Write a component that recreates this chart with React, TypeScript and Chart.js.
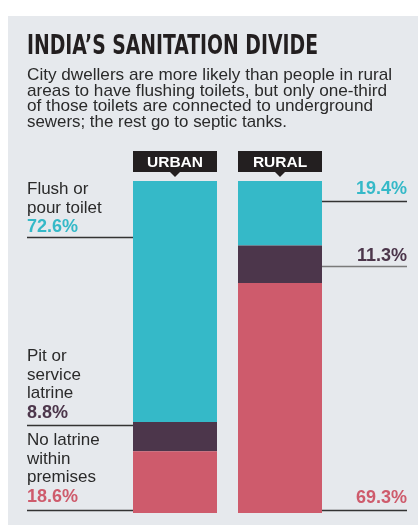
import React, { useEffect, useRef } from "react";
import { Chart, registerables } from "chart.js";

Chart.register(...registerables);

const TITLE = "INDIA\u2019S SANITATION DIVIDE";
const SUBTITLE = [
  "City dwellers are more likely than people in rural",
  "areas to have flushing toilets, but only one-third",
  "of those toilets are connected to underground",
  "sewers; the rest go to septic tanks.",
];
const categories = ["URBAN", "RURAL"];
const seriesNames = ["No latrine within premises", "Pit or service latrine", "Flush or pour toilet"];
const noLatrine = [18.6, 69.3];
const pitLatrine = [8.8, 11.3];
const flushToilet = [72.6, 19.4];
const leftLabels = [
  ["No latrine", "within", "premises"],
  ["Pit or", "service", "latrine"],
  ["Flush or", "pour toilet"],
];

const COLORS = ["#CE5B6C", "#4C364B", "#35B9C8"];
const BG = "#E6E9ED";
const INK = "#2A2A2A";

const W = 410;
const H = 509;

const fmt = (v: number) => v.toFixed(1) + "%";

const overlay = {
  id: "overlay",
  afterDraw(chart: any) {
    const ctx = chart.ctx as CanvasRenderingContext2D;
    const area = chart.chartArea;
    const metaTop = chart.getDatasetMeta(0);
    ctx.save();
    // Title
    ctx.fillStyle = "#231F20";
    ctx.font = 'bold 26.5px "Liberation Sans Narrow", "DejaVu Sans Condensed", sans-serif';
    ctx.textBaseline = "alphabetic";
    ctx.textAlign = "left";
    const tw = ctx.measureText(TITLE).width;
    ctx.save();
    ctx.translate(19, 38);
    ctx.scale(291 / tw, 1);
    ctx.fillText(TITLE, 0, 0);
    ctx.restore();
    // Subtitle
    ctx.fillStyle = INK;
    ctx.font = '17px "Liberation Sans", Arial, sans-serif';
    const targets = [365, 360, 346, 260];
    SUBTITLE.forEach((s, i) => {
      const w = ctx.measureText(s).width;
      ctx.save();
      ctx.translate(19, 64 + i * 15.6);
      ctx.scale(targets[i] / w, 1);
      ctx.fillText(s, 0, 0);
      ctx.restore();
    });

    // Category boxes
    const bars = metaTop.data;
    bars.forEach((bar: any, i: number) => {
      const left = bar.x - bar.width / 2;
      const boxTop = area.top - 30;
      const boxH = 21;
      ctx.fillStyle = "#231F20";
      ctx.fillRect(left, boxTop, bar.width, boxH);
      ctx.beginPath();
      ctx.moveTo(bar.x - 5, boxTop + boxH);
      ctx.lineTo(bar.x + 5, boxTop + boxH);
      ctx.lineTo(bar.x, boxTop + boxH + 5);
      ctx.closePath();
      ctx.fill();
      ctx.fillStyle = "#FFFFFF";
      ctx.font = 'bold 15.5px "Liberation Sans", Arial, sans-serif';
      ctx.textAlign = "center";
      ctx.fillText(categories[i], bar.x, boxTop + 16);
    });

    const urban = bars[0];
    const rural = bars[1];
    const uLeft = urban.x - urban.width / 2;
    const rRight = rural.x + rural.width / 2;
    const textX = 19;
    const rightX = 399;

    const hline = (x1: number, x2: number, y: number, color: string, lw: number) => {
      ctx.strokeStyle = color;
      ctx.lineWidth = lw;
      ctx.beginPath();
      ctx.moveTo(x1, y);
      ctx.lineTo(x2, y);
      ctx.stroke();
    };

    const leftLayout = [
      { base: 429, line: 494 },
      { base: 345, line: 409 },
      { base: 178, line: 221 },
    ];
    const urbanVals = [noLatrine[0], pitLatrine[0], flushToilet[0]];
    leftLayout.forEach((L, k) => {
      ctx.textAlign = "left";
      ctx.fillStyle = INK;
      ctx.font = '17px "Liberation Sans", Arial, sans-serif';
      const lines = leftLabels[k];
      lines.forEach((t, j) => ctx.fillText(t, textX, L.base + j * 18.7));
      ctx.fillStyle = COLORS[k];
      ctx.font = 'bold 18px "Liberation Sans", Arial, sans-serif';
      ctx.fillText(fmt(urbanVals[k]), textX, L.base + lines.length * 18.7 + 1);
      hline(textX, uLeft, L.line + 0.5, "#333333", 1.5);
    });

    const ruralVals = [noLatrine[1], pitLatrine[1], flushToilet[1]];
    const rightLayout = [
      { base: 487, line: 494, lc: "#333333" },
      { base: 245, line: 250, lc: "#7A7A7A" },
      { base: 178, line: 185, lc: "#333333" },
    ];
    rightLayout.forEach((R, k) => {
      ctx.textAlign = "right";
      ctx.fillStyle = COLORS[k];
      ctx.font = 'bold 18px "Liberation Sans", Arial, sans-serif';
      ctx.fillText(fmt(ruralVals[k]), rightX, R.base);
      hline(rRight, rightX, R.line + 0.5, R.lc, 1.5);
    });
    ctx.restore();
  },
};

export default function App() {
  const ref = useRef<HTMLCanvasElement | null>(null);
  useEffect(() => {
    if (!ref.current) return;
    const chart = new Chart(ref.current, {
      type: "bar",
      data: {
        labels: categories,
        datasets: [
          { label: seriesNames[0], data: noLatrine, backgroundColor: COLORS[0] },
          { label: seriesNames[1], data: pitLatrine, backgroundColor: COLORS[1] },
          { label: seriesNames[2], data: flushToilet, backgroundColor: COLORS[2] },
        ],
      },
      options: {
        responsive: false,
        animation: false,
        layout: { padding: { left: 114.5, right: 85.5, top: 165, bottom: 12 } },
        datasets: { bar: { barPercentage: 0.8, categoryPercentage: 1, borderWidth: 0 } },
        scales: {
          x: { stacked: true, display: false },
          y: { stacked: true, display: false, min: 0, max: 100 },
        },
        plugins: { legend: { display: false }, tooltip: { enabled: false }, title: { display: false } },
      },
      plugins: [overlay],
    });
    return () => chart.destroy();
  }, []);
  return (
    <div style={{ position: "fixed", left: 8, top: 16, width: W, height: H, background: BG }}>
      <canvas ref={ref} width={W} height={H} style={{ display: "block" }} />
    </div>
  );
}
